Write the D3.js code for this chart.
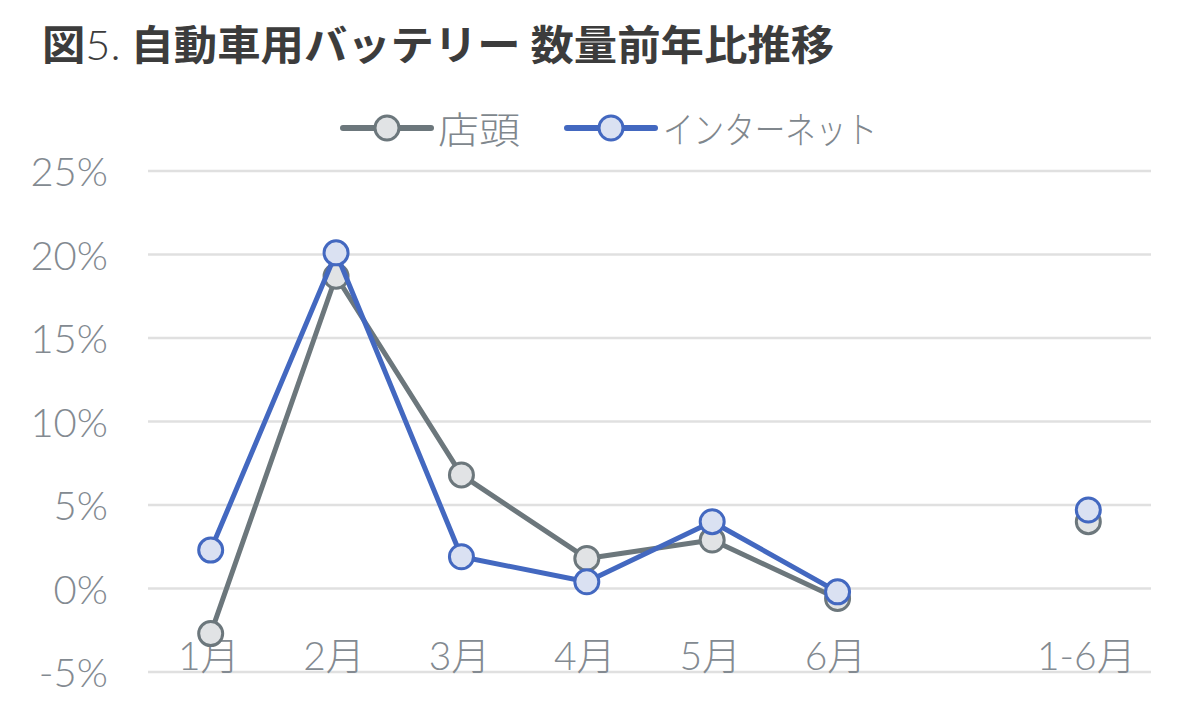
<!DOCTYPE html>
<html>
<head>
<meta charset="utf-8">
<script src="https://cdn.jsdelivr.net/npm/d3@7"></script>
<style>
  body { margin: 0; background: #fff; }
  svg { display: block; }
</style>
</head>
<body>
<svg id="chart" width="1201" height="722"></svg>
<script>
// values (% year on year)
const categories = ["1月", "2月", "3月", "4月", "5月", "6月", "", "1-6月"];
const storeValues = [-2.7, 18.7, 6.8, 1.8, 2.9, -0.6, null, 4.0];
const netValues = [2.3, 20.1, 1.9, 0.4, 4.0, -0.2, null, 4.7];
const yTicks = [-5, 0, 5, 10, 15, 20, 25];
const seriesNames = ["店頭", "インターネット"];

const svg = d3.select("#chart");
const numFont = "Lato, 'Noto Sans CJK JP', sans-serif";

const x = d3.scaleBand().domain(categories).range([148, 1151]);
const y = d3.scaleLinear().domain([-5, 25]).range([672, 171]);

// title ("5." is thin in the original)
const title = svg.append("text")
  .attr("x", 42)
  .attr("y", 60)
  .attr("textLength", 792)
  .attr("lengthAdjust", "spacingAndGlyphs")
  .style("font-family", "'Noto Sans CJK JP', sans-serif")
  .style("font-weight", "bold")
  .style("font-size", "41px")
  .style("fill", "#3c3c3c");
title.append("tspan").text("図");
title.append("tspan").style("font-weight", 300).style("font-family", numFont).text("5.");
title.append("tspan").text(" 自動車用バッテリー 数量前年比推移");

// gridlines
svg.append("g").selectAll("line")
  .data(yTicks)
  .enter()
  .append("line")
    .attr("x1", 148)
    .attr("x2", 1151)
    .attr("y1", d => y(d))
    .attr("y2", d => y(d))
    .style("stroke", "#e0e0e0")
    .style("stroke-width", 2.5);

// y tick labels
svg.append("g").selectAll("text")
  .data(yTicks)
  .enter()
  .append("text")
    .attr("x", 108)
    .attr("y", d => y(d))
    .attr("text-anchor", "end")
    .attr("dominant-baseline", "central")
    .style("font-family", numFont)
    .style("font-weight", 300)
    .style("font-size", "40px")
    .style("fill", "#838a91")
    .text(d => d + "%");

// x labels
svg.append("g").selectAll("text")
  .data(categories)
  .enter()
  .append("text")
    .attr("x", d => x(d) + x.bandwidth() / 2 - 2)
    .attr("y", 655)
    .attr("text-anchor", "middle")
    .attr("dominant-baseline", "central")
    .style("font-family", numFont)
    .style("font-weight", 300)
    .style("font-size", "39px")
    .style("fill", "#838a91")
    .text(d => d);

const series = [
  { name: seriesNames[0], values: storeValues, stroke: "#6c777c", fill: "#e1e3e5" },
  { name: seriesNames[1], values: netValues, stroke: "#4368c0", fill: "#dae1f2" }
];

const line = d3.line()
  .defined(d => d.v != null)
  .x(d => x(d.c) + x.bandwidth() / 2)
  .y(d => y(d.v));

series.forEach(s => {
  const pts = categories.map((c, i) => ({ c: c, v: s.values[i] }));
  const g = svg.append("g");
  g.append("path")
    .datum(pts)
    .attr("d", line)
    .style("fill", "none")
    .style("stroke", s.stroke)
    .style("stroke-width", 5)
    .style("stroke-linejoin", "round");
  g.selectAll("circle")
    .data(pts.filter(d => d.v != null))
    .enter()
    .append("circle")
      .attr("cx", d => x(d.c) + x.bandwidth() / 2)
      .attr("cy", d => y(d.v))
      .attr("r", 12)
      .style("fill", s.fill)
      .style("stroke", s.stroke)
      .style("stroke-width", 3);
});

// legend
const legendItems = [
  { x0: 343, textX: 438, textLen: 82 },
  { x0: 567, textX: 663, textLen: 214 }
];
const legendG = svg.append("g");
series.forEach((s, i) => {
  const it = legendItems[i];
  legendG.append("line")
    .attr("x1", it.x0)
    .attr("x2", it.x0 + 88)
    .attr("y1", 128)
    .attr("y2", 128)
    .style("stroke", s.stroke)
    .style("stroke-width", 6)
    .style("stroke-linecap", "round");
  legendG.append("circle")
    .attr("cx", it.x0 + 44)
    .attr("cy", 128)
    .attr("r", 12)
    .style("fill", s.fill)
    .style("stroke", s.stroke)
    .style("stroke-width", 3);
  legendG.append("text")
    .attr("x", it.textX)
    .attr("y", 128)
    .attr("dominant-baseline", "central")
    .attr("textLength", it.textLen)
    .attr("lengthAdjust", "spacingAndGlyphs")
    .style("font-family", "'Noto Sans CJK JP', sans-serif")
    .style("font-weight", 300)
    .style("font-size", "37px")
    .style("fill", "#80878d")
    .text(s.name);
});
</script>
</body>
</html>
